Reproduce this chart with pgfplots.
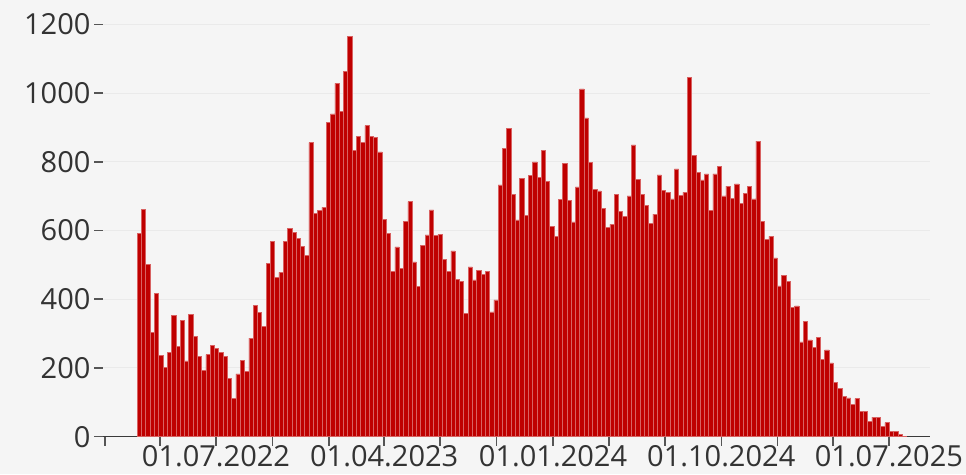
\documentclass[border=0pt]{standalone}
\usepackage{pgfplots}
\usepackage{pgfplotstable}
\pgfplotsset{compat=1.18}
\usepackage{fontspec}
\setmainfont{Open Sans}
\definecolor{bg}{HTML}{F5F5F5}
\definecolor{gridc}{HTML}{EAEAEA}
\definecolor{barred}{HTML}{BF0000}
\definecolor{baredge}{HTML}{D86262}
\definecolor{txt}{HTML}{333333}
\definecolor{tickc}{HTML}{555555}
\definecolor{axc}{HTML}{3A3A3A}

% x = days since 01.01.2022 (week centres), y = weekly count
\pgfplotstableread{
x y
56 592
63 661
70 501
77 303
84 416
91 236
98 201
105 245
112 352
119 263
126 338
133 221
140 357
147 292
154 233
161 194
168 239
175 266
182 257
189 246
196 234
203 169
210 111
217 183
224 223
231 189
238 287
245 383
252 361
259 322
266 505
273 569
280 464
287 478
294 569
301 606
308 594
315 576
322 553
329 528
336 856
343 650
350 658
357 667
364 914
371 939
378 1028
385 946
392 1064
399 1165
406 833
413 873
420 856
427 905
434 873
441 872
448 829
455 633
462 592
469 482
476 552
483 489
490 627
497 684
504 509
511 437
518 556
525 587
532 660
539 585
546 588
553 515
560 481
567 541
574 458
581 451
588 359
595 494
602 456
609 484
616 472
623 480
630 363
637 398
644 733
651 838
658 897
665 705
672 631
679 752
686 643
693 760
700 800
707 755
714 833
721 743
728 612
735 583
742 691
749 795
756 687
763 625
770 727
777 1012
784 928
791 798
798 720
805 715
812 664
819 610
826 618
833 705
840 656
847 641
854 701
861 849
868 748
875 706
882 673
889 620
896 648
903 762
910 716
917 710
924 692
931 779
938 703
945 711
952 1045
959 819
966 769
973 747
980 765
987 658
994 765
1001 787
1008 701
1015 729
1022 693
1029 736
1036 678
1043 708
1050 728
1057 692
1064 860
1071 627
1078 575
1085 583
1092 520
1099 439
1106 469
1113 453
1120 377
1127 381
1134 276
1141 335
1148 282
1155 259
1162 289
1169 225
1176 253
1183 215
1190 159
1197 141
1204 118
1211 113
1218 95
1225 111
1232 74
1239 74
1246 45
1253 57
1260 57
1267 31
1274 41
1281 16
1288 16
1295 6
1302 2
}\weekly

\begin{document}
\begin{tikzpicture}
\path[use as bounding box, fill=bg] (-103pt,-37.3pt) rectangle (863pt,436.7pt);
\begin{axis}[
  at={(0pt,0pt)}, anchor=south west,
  scale only axis,
  width=827pt, height=412.4pt,
  xmin=-3, xmax=1344, ymin=0, ymax=1200,
  axis x line*=bottom, axis y line*=left,
  x axis line style={-, color=axc, line width=1.5pt},
  y axis line style={draw=none},
  ytick={0,200,...,1200},
  xtick={0,90,181,273,365,455,546,638,730,821,912,1004,1096,1186,1277},
  xticklabels={,,01.07.2022,,,01.04.2023,,,01.01.2024,,,01.10.2024,,,01.07.2025},
  tick align=outside,
  major tick length=9pt,
  tick style={color=tickc, line width=1.5pt},
  ymajorgrids,
  grid style={color=gridc, line width=1pt},
  ticklabel style={font=\fontsize{29}{34}\selectfont, text=txt},
  xticklabel style={inner sep=0.5pt, yshift=1pt},
  /pgf/number format/assume math mode=true,
  /pgf/number format/1000 sep={},
  clip=false,
]
\addplot[ybar, bar width=7, fill=barred, draw=baredge, line width=0.5pt] table[x=x, y=y] {\weekly};
\end{axis}
\end{tikzpicture}
\end{document}
